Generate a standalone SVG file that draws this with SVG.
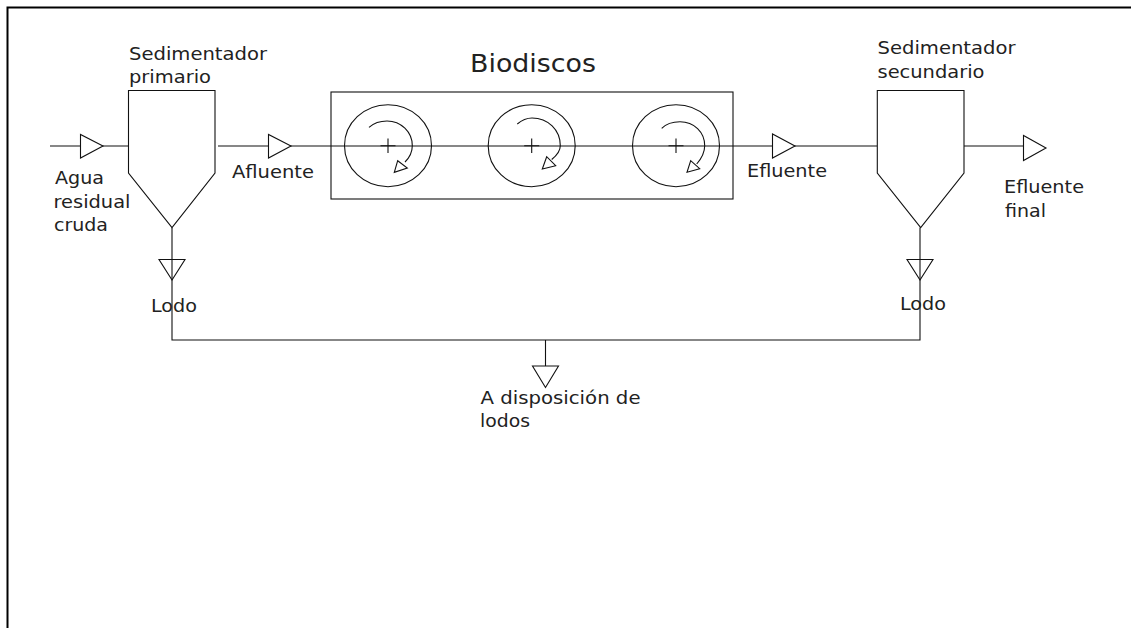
<svg xmlns="http://www.w3.org/2000/svg" width="1131" height="628" viewBox="0 0 1131 628">
<style>
.l{fill:none;stroke:#111;stroke-width:1.1}
.t{fill:#fff;stroke:#111;stroke-width:1.1}
.o{fill:none;stroke:#111;stroke-width:1.1}
text{font-family:"DejaVu Sans",Verdana,sans-serif;font-size:17px;fill:#222}
</style>
<rect width="1131" height="628" fill="#fff"/>
<path id="frame" d="M1131 7.500H7.500V628" fill="none" stroke="#000" stroke-width="2"/>
<g id="connectors">
<path class="l" d="M50 146H128.500M218 146H877M964 146H1023.500M172 227.500V340H920V227.500M545.500 340V366"/>
<path class="t" d="M80.500 134.500V158L103 146Z"/>
<path class="t" d="M268.500 134.500V158L291 146Z"/>
<path class="t" d="M772.500 134V158L795 146Z"/>
<path class="t" d="M1023.500 135.500V160.500L1046 148Z"/>
<path class="o" d="M159 259.500H185L172 280Z"/>
<path class="o" d="M907 259.500H933L920 280Z"/>
<path class="t" d="M532.500 366H558.500L545.500 387.500Z"/>
</g>
<g id="sedimentador-primario">
<path class="l" d="M128.500 90.500H215V173L172 227.500L128.500 173Z"/>
<text x="129" y="60" textLength="138" lengthAdjust="spacingAndGlyphs">Sedimentador</text>
<text x="129" y="83" textLength="82" lengthAdjust="spacingAndGlyphs">primario</text>
</g>
<g id="biodiscos">
<rect class="l" x="331" y="92" width="402" height="107"/>
<text x="470" y="71.500" style="font-size:25px" textLength="126" lengthAdjust="spacingAndGlyphs">Biodiscos</text>
</g>
<g id="disco-1">
<ellipse class="l" cx="388" cy="145.700" rx="43.500" ry="41"/>
<path class="l" d="M380.500 145.700H395.500M388 138.500V153"/>
<path class="l" d="M369 127.300C374 123 380 121 387 121C401 121 412.300 132 412.300 145.700C412.300 153 409 158 405 162"/>
<path class="t" d="M397.700 160.700L394.300 172.300L407.300 168Z"/>
</g>
<g id="disco-2">
<ellipse class="l" cx="531.700" cy="145.700" rx="43.500" ry="41"/>
<path class="l" d="M524.200 145.700H539.200M531.700 138.500V153"/>
<path class="l" d="M517.300 124C522 120 527 118 532 118C548 118 560.300 130 560.300 145.700C560.300 151 556 156 551.700 159.500"/>
<path class="t" d="M546.700 156.700L542.300 169L555.700 165.700Z"/>
</g>
<g id="disco-3">
<ellipse class="l" cx="676" cy="145.700" rx="43.500" ry="41"/>
<path class="l" d="M668.500 145.700H683.500M676 138.500V153"/>
<path class="l" d="M661.700 128.300C666 124 673 121.700 680 121.700C694 121.700 704.700 132 704.700 145.700C704.700 153 701 159 696.700 164"/>
<path class="t" d="M690.700 160.700L687 172.300L699.700 168.700Z"/>
</g>
<g id="sedimentador-secundario">
<path class="l" d="M877.300 90.500H964V173L920.700 227.500L877.300 173Z"/>
<text x="877.500" y="54" textLength="138" lengthAdjust="spacingAndGlyphs">Sedimentador</text>
<text x="877.500" y="78" textLength="107" lengthAdjust="spacingAndGlyphs">secundario</text>
</g>
<g id="labels">
<text x="55" y="184" textLength="49" lengthAdjust="spacingAndGlyphs">Agua</text>
<text x="53.500" y="208" textLength="77" lengthAdjust="spacingAndGlyphs">residual</text>
<text x="54" y="231" textLength="54" lengthAdjust="spacingAndGlyphs">cruda</text>
<text x="232" y="178" textLength="82" lengthAdjust="spacingAndGlyphs">Afluente</text>
<text x="747" y="177" textLength="80" lengthAdjust="spacingAndGlyphs">Efluente</text>
<text x="1004" y="192.500" textLength="80" lengthAdjust="spacingAndGlyphs">Efluente</text>
<text x="1005" y="217" textLength="41" lengthAdjust="spacingAndGlyphs">final</text>
<text x="151" y="312" textLength="46" lengthAdjust="spacingAndGlyphs">Lodo</text>
<text x="900" y="310" textLength="46" lengthAdjust="spacingAndGlyphs">Lodo</text>
<text x="480.500" y="404" textLength="160" lengthAdjust="spacingAndGlyphs">A disposición de</text>
<text x="480" y="427" textLength="50" lengthAdjust="spacingAndGlyphs">lodos</text>
</g>
</svg>
